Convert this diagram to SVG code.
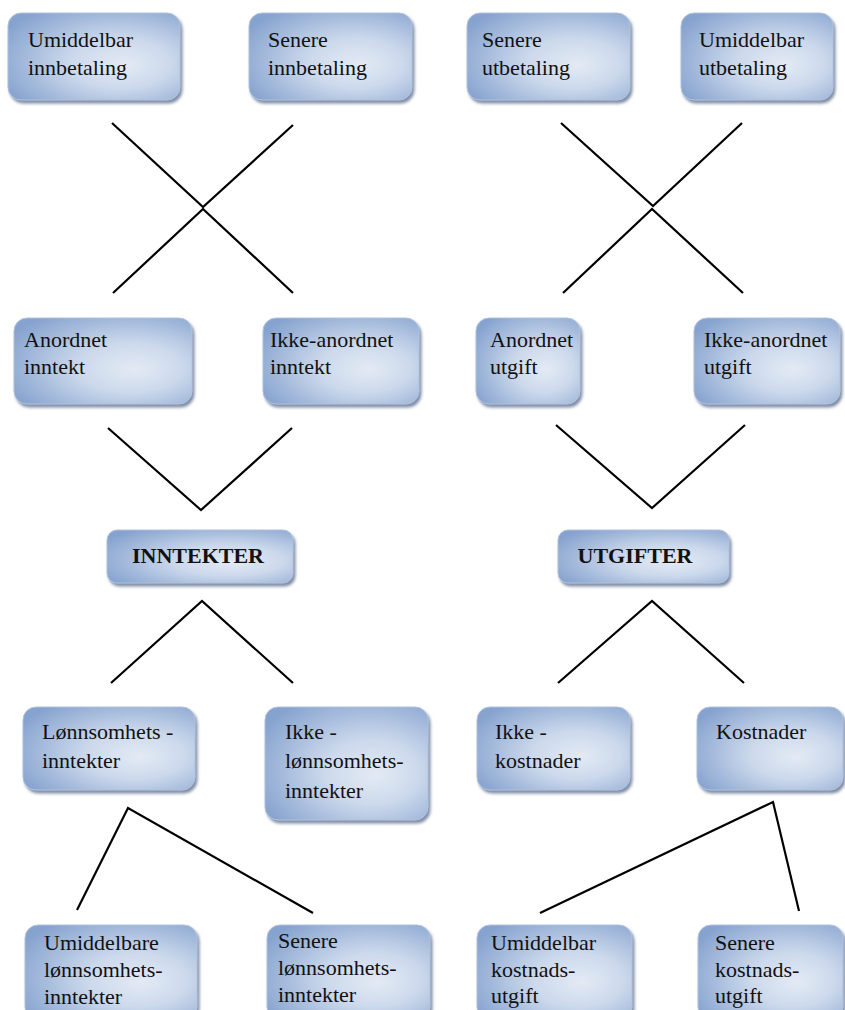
<svg xmlns="http://www.w3.org/2000/svg" width="845" height="1010" viewBox="0 0 845 1010">
<defs>
<radialGradient id="g" cx="0.62" cy="0.55" r="0.72" fx="0.68" fy="0.6">
<stop offset="0" stop-color="#e3eaf4"/>
<stop offset="0.4" stop-color="#ccd9ec"/>
<stop offset="1" stop-color="#86a3cf"/>
</radialGradient>
<filter id="sh" x="-10%" y="-10%" width="125%" height="130%">
<feDropShadow dx="2" dy="3" stdDeviation="1.5" flood-color="#5f7290" flood-opacity="0.8"/>
</filter>
</defs>
<style>
.box{fill:url(#g);stroke:#b0c2dc;stroke-width:1;filter:url(#sh)}
.t{font-family:"Liberation Serif","Times New Roman",serif;font-size:22px;fill:#111}
.b{font-family:"Liberation Serif","Times New Roman",serif;font-size:22px;font-weight:bold;fill:#111}
.c{fill:none;stroke:#000;stroke-width:2.2;stroke-linejoin:miter}
</style>
<rect width="845" height="1010" fill="#fff"/>
<g id="connectors">
<polyline class="c" points="112,123 203,207 293,125"/>
<polyline class="c" points="113,293 203,209 293,293"/>
<polyline class="c" points="561,123 653,206 742,123"/>
<polyline class="c" points="563,293 652,209 743,293"/>
<polyline class="c" points="108,428 201,510 292,428"/>
<polyline class="c" points="556,425 652,508 745,425"/>
<polyline class="c" points="111,683 202,601 293,683"/>
<polyline class="c" points="558,683 652,601 744,683"/>
<polyline class="c" points="77,910 128,808 313,913"/>
<polyline class="c" points="540,913 773,802 799,911"/>
</g>
<g id="n1"><rect class="box" x="8" y="13" width="172" height="87" rx="13"/><text class="t" x="28" y="47">Umiddelbar</text><text class="t" x="28" y="75">innbetaling</text></g>
<g id="n2"><rect class="box" x="249" y="13" width="163" height="87" rx="13"/><text class="t" x="268" y="47">Senere</text><text class="t" x="268" y="75">innbetaling</text></g>
<g id="n3"><rect class="box" x="467" y="13" width="163" height="87" rx="13"/><text class="t" x="482" y="47">Senere</text><text class="t" x="482" y="75">utbetaling</text></g>
<g id="n4"><rect class="box" x="681" y="13" width="152" height="87" rx="13"/><text class="t" x="699" y="47">Umiddelbar</text><text class="t" x="699" y="75">utbetaling</text></g>
<g id="n5"><rect class="box" x="14" y="318" width="178" height="86" rx="13"/><text class="t" x="24" y="347">Anordnet</text><text class="t" x="24" y="374">inntekt</text></g>
<g id="n6"><rect class="box" x="263" y="318" width="156" height="86" rx="13"/><text class="t" x="270" y="347">Ikke-anordnet</text><text class="t" x="270" y="374">inntekt</text></g>
<g id="n7"><rect class="box" x="476" y="318" width="104" height="86" rx="13"/><text class="t" x="490" y="347">Anordnet</text><text class="t" x="490" y="374">utgift</text></g>
<g id="n8"><rect class="box" x="694" y="318" width="146" height="86" rx="13"/><text class="t" x="704" y="347">Ikke-anordnet</text><text class="t" x="704" y="374">utgift</text></g>
<g id="n9"><rect class="box" x="107" y="530" width="186" height="53" rx="10"/><text class="b" x="198" y="563" text-anchor="middle">INNTEKTER</text></g>
<g id="n10"><rect class="box" x="558" y="530" width="171" height="53" rx="10"/><text class="b" x="635" y="563" text-anchor="middle">UTGIFTER</text></g>
<g id="n11"><rect class="box" x="23" y="707" width="172" height="83" rx="13"/><text class="t" x="42" y="739">Lønnsomhets -</text><text class="t" x="42" y="768">inntekter</text></g>
<g id="n12"><rect class="box" x="265" y="707" width="163" height="113" rx="13"/><text class="t" x="285" y="739">Ikke -</text><text class="t" x="285" y="768">lønnsomhets-</text><text class="t" x="285" y="798">inntekter</text></g>
<g id="n13"><rect class="box" x="477" y="707" width="153" height="83" rx="13"/><text class="t" x="495" y="739">Ikke -</text><text class="t" x="495" y="768">kostnader</text></g>
<g id="n14"><rect class="box" x="697" y="707" width="146" height="83" rx="13"/><text class="t" x="716" y="739">Kostnader</text></g>
<g id="n15"><rect class="box" x="25" y="925" width="172" height="95" rx="13"/><text class="t" x="44" y="950">Umiddelbare</text><text class="t" x="44" y="977">lønnsomhets-</text><text class="t" x="44" y="1004">inntekter</text></g>
<g id="n16"><rect class="box" x="267" y="925" width="163" height="95" rx="13"/><text class="t" x="278" y="948">Senere</text><text class="t" x="278" y="975">lønnsomhets-</text><text class="t" x="278" y="1002">inntekter</text></g>
<g id="n17"><rect class="box" x="477" y="925" width="155" height="95" rx="13"/><text class="t" x="491" y="950">Umiddelbar</text><text class="t" x="491" y="977">kostnads-</text><text class="t" x="491" y="1003">utgift</text></g>
<g id="n18"><rect class="box" x="698" y="925" width="145" height="95" rx="13"/><text class="t" x="715" y="950">Senere</text><text class="t" x="715" y="977">kostnads-</text><text class="t" x="715" y="1003">utgift</text></g>
</svg>
